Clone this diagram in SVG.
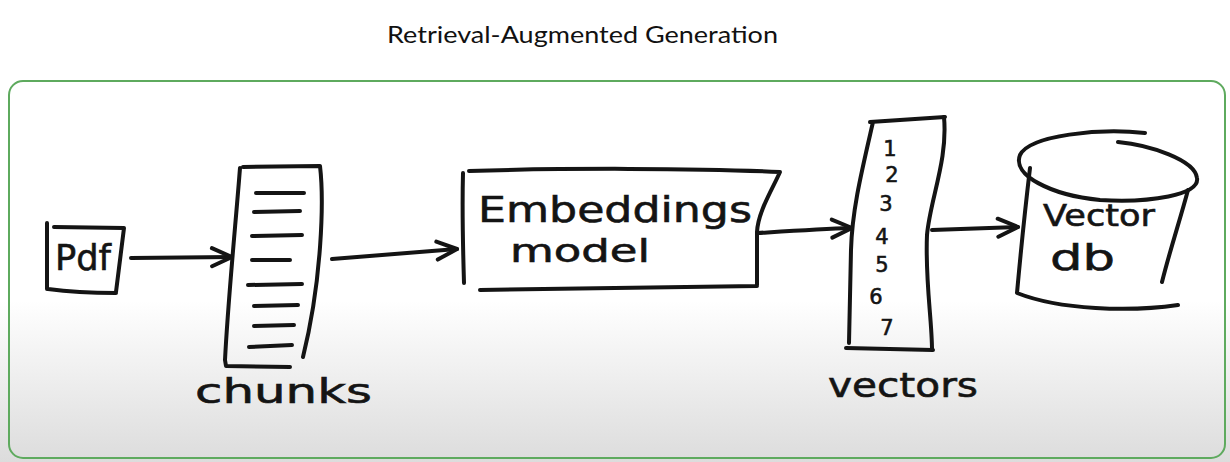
<svg xmlns="http://www.w3.org/2000/svg" width="1230" height="462" viewBox="0 0 1230 462">
<style>
.ink{fill:none;stroke:#141414;stroke-width:4;stroke-linecap:round;stroke-linejoin:round}
.hand{font-family:"DejaVu Sans","Noto Sans",sans-serif;fill:#141414;stroke:#141414;stroke-width:0.6}
.title{font-family:Lato,"Open Sans",sans-serif;font-size:23px;fill:#111}
</style>
<defs>
<linearGradient id="bg" x1="0" y1="0" x2="0" y2="1">
<stop offset="0" stop-color="#ffffff"/>
<stop offset="0.65" stop-color="#ffffff"/>
<stop offset="1" stop-color="#dcdcdc"/>
</linearGradient>
<marker id="arr" markerUnits="userSpaceOnUse" markerWidth="30" markerHeight="30" refX="0" refY="0" viewBox="-25 -15 30 30" orient="auto" overflow="visible">
<path d="M-20,-9 L0,0 L-20,9" fill="none" stroke="#141414" stroke-width="4" stroke-linecap="round" stroke-linejoin="round"/>
</marker>
</defs>
<rect x="0" y="0" width="1230" height="462" fill="url(#bg)"/>
<rect x="9" y="81" width="1216" height="377" rx="14" fill="none" stroke="#5eaa5e" stroke-width="2"/>
<text class="title" x="387" y="43" textLength="391" lengthAdjust="spacingAndGlyphs">Retrieval-Augmented Generation</text>

<g id="pdf">
<path class="ink" d="M47,223 L47,289 M54,227 L124,228 L116,292 M48,289 C70,292 95,293 116,293"/>
<text class="hand" x="55" y="270" font-size="36" textLength="56" lengthAdjust="spacingAndGlyphs">Pdf</text>
</g>

<g id="chunks">
<path class="ink" d="M240,168 C236,220 228,300 225,360 L226,366 L290,367 M243,167 L320,166 C324,200 322,280 303,357"/>
<path class="ink" d="M256,193 L304,193 M254,212 L300,211 M252,236 L302,235 M252,260 L290,260 M248,285 L302,284 M254,306 L298,305 M254,326 L294,325 M249,347 L292,345"/>
<text class="hand" x="195" y="403" font-size="34" textLength="177" lengthAdjust="spacingAndGlyphs">chunks</text>
</g>

<g id="embeddings">
<path class="ink" d="M463,173 C462,210 463,250 464,283 M469,171 C560,168 700,168 780,172 C772,190 758,212 757,232 L757,285 M480,290 L757,286"/>
<text class="hand" x="478" y="222" font-size="36" textLength="274" lengthAdjust="spacingAndGlyphs">Embeddings</text>
<text class="hand" x="510" y="262" font-size="32" textLength="140" lengthAdjust="spacingAndGlyphs">model</text>
</g>

<g id="vectors">
<path class="ink" d="M870,122 L945,117 M873,122 C862,170 852,210 851,250 L849,343 M846,348 L933,350 M944,117 C948,160 930,200 927,235 C925,280 932,320 932,350"/>
<g class="hand" font-size="21" text-anchor="middle">
<text x="890" y="156">1</text>
<text x="892" y="182">2</text>
<text x="886" y="211">3</text>
<text x="882" y="244">4</text>
<text x="882" y="272">5</text>
<text x="876" y="304">6</text>
<text x="887" y="335">7</text>
</g>
<text class="hand" x="828" y="397" font-size="34" textLength="150" lengthAdjust="spacingAndGlyphs">vectors</text>
</g>

<g id="vectordb">
<path class="ink" d="M1145,133 C1100,128 1030,135 1020,155 C1012,175 1050,195 1100,200 C1150,203 1200,195 1197,178 C1195,160 1150,145 1118,142"/>
<path class="ink" d="M1030,168 C1025,210 1020,260 1017,293 C1060,310 1130,312 1178,305 M1188,190 C1180,220 1170,250 1162,282"/>
<text class="hand" x="1043" y="226" font-size="30" textLength="112" lengthAdjust="spacingAndGlyphs">Vector</text>
<text class="hand" x="1050" y="270" font-size="36" textLength="65" lengthAdjust="spacingAndGlyphs">db</text>
</g>

<g id="connectors">
<path class="ink" marker-end="url(#arr)" d="M131,258 L232,257"/>
<path class="ink" marker-end="url(#arr)" d="M332,259 C380,255 420,252 457,249"/>
<path class="ink" marker-end="url(#arr)" d="M758,233 C790,231 820,229 852,228"/>
<path class="ink" marker-end="url(#arr)" d="M932,230 C960,229 990,228 1018,227"/>
</g>
</svg>
